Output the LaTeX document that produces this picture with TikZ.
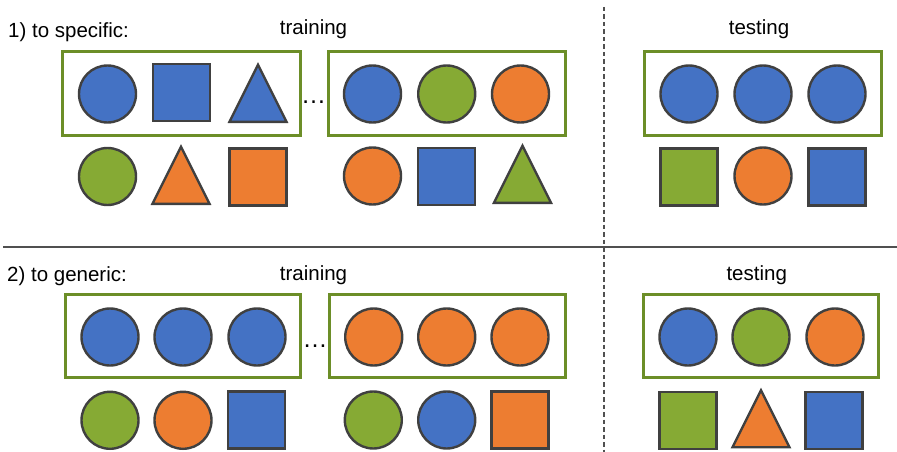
\documentclass[tikz,border=0pt]{standalone}
\usepackage{fontspec}
\setmainfont{Liberation Sans}
\usetikzlibrary{shapes.geometric}
\definecolor{shapeblue}{RGB}{68,114,196}
\definecolor{shapeorange}{RGB}{237,125,49}
\definecolor{shapegreen}{RGB}{134,170,52}
\definecolor{boxgreen}{RGB}{108,142,40}
\definecolor{outline}{RGB}{64,64,64}
\definecolor{rulegray}{RGB}{80,80,80}

\begin{document}
\begin{tikzpicture}[x=1pt,y=-1pt,
  shp/.style={draw=outline, line width=2.4pt, inner sep=0pt, outer sep=0pt},
  circ/.style={shp, circle, minimum size=57pt},
  sq/.style={shp, rectangle, minimum size=57pt},
  tri/.style={shp, isosceles triangle, shape border rotate=90,
    isosceles triangle stretches, minimum width=57pt, minimum height=57pt,
    anchor=lower side},
  B/.style={fill=shapeblue},
  O/.style={fill=shapeorange},
  G/.style={fill=shapegreen},
  grp/.style={draw=boxgreen, line width=3pt, rectangle, inner sep=0pt,
    minimum height=84pt},
  lbl/.style={font=\fontsize{20.5}{24}\selectfont, inner sep=0pt, anchor=base},
  gap/.style={font=\fontsize{25}{30}\selectfont, inner sep=0pt, anchor=base},
  divider/.style={draw=rulegray, line width=2pt},
  ]
\useasboundingbox (0,0) rectangle (897,452);

% separators
\coordinate (vtop) at (604,7);
\coordinate (vbot) at (604,452);
\coordinate (hleft) at (3,246.7);
\coordinate (hright) at (897,246.7);
\draw[divider, dash pattern=on 4.5pt off 3pt] (vtop) -- (vbot);
\draw[divider] (hleft) -- (hright);

% ---------- 1) to specific ----------
\node[lbl, anchor=base west] (t1) at (8,37.5) {1) to specific:};
\node[lbl] (train1) at (313.5,35) {training};
\node[lbl] (test1) at (759,34.5) {testing};

\node[grp, minimum width=238.5pt] (ga) at (181.25,93.5) {};
\node[grp, minimum width=237pt] (gb) at (446.5,93.5) {};
\node[grp, minimum width=237pt] (gc) at (763,93.5) {};
\node[gap] (dots1) at (313.5,103.5) {…};

\node[circ,B] (a1) at (107.5,94) {};
\node[sq,B]   (a2) at (181.5,92.5) {};
\node[tri,B]  (a3) at (258,121.8) {};
\node[circ,B] (b1) at (372.5,94) {};
\node[circ,G] (b2) at (446.7,94) {};
\node[circ,O] (b3) at (520.5,94) {};
\node[circ,B] (c1) at (689,94) {};
\node[circ,B] (c2) at (763,94) {};
\node[circ,B] (c3) at (837,94) {};

\node[circ,G] (a4) at (107.5,176.5) {};
\node[tri,O]  (a5) at (181,203.8) {};
\node[sq,O]   (a6) at (258,177) {};
\node[circ,O] (b4) at (372.5,176) {};
\node[sq,B]   (b5) at (446.2,176.7) {};
\node[tri,G]  (b6) at (522.5,202.8) {};
\node[sq,G]   (c4) at (689,177) {};
\node[circ,O] (c5) at (763,176) {};
\node[sq,B]   (c6) at (837,177) {};

% ---------- 2) to generic ----------
\node[lbl, anchor=base west] (t2) at (7,281.7) {2) to generic:};
\node[lbl] (train2) at (313.5,280) {training};
\node[lbl] (test2) at (756.7,280) {testing};

\node[grp, minimum width=235pt, minimum height=83pt] (gd) at (183.2,336) {};
\node[grp, minimum width=236pt, minimum height=83pt] (ge) at (447.2,336) {};
\node[grp, minimum width=235.3pt, minimum height=83pt] (gf) at (760.9,336) {};
\node[gap] (dots2) at (315,347.5) {…};

\node[circ,B] (d1) at (110,337) {};
\node[circ,B] (d2) at (183,337) {};
\node[circ,B] (d3) at (257,337) {};
\node[circ,O] (e1) at (373.7,337) {};
\node[circ,O] (e2) at (446.7,337) {};
\node[circ,O] (e3) at (520,337) {};
\node[circ,B] (f1) at (688,337) {};
\node[circ,G] (f2) at (761,337) {};
\node[circ,O] (f3) at (835,337) {};

\node[circ,G] (d4) at (110,420.3) {};
\node[circ,O] (d5) at (183,420.3) {};
\node[sq,B]   (d6) at (256.5,420) {};
\node[circ,G] (e4) at (373.3,420) {};
\node[circ,B] (e5) at (446.7,420) {};
\node[sq,O]   (e6) at (520,420) {};
\node[sq,G]   (f4) at (688,420.3) {};
\node[tri,O]  (f5) at (761,447.2) {};
\node[sq,B]   (f6) at (834,420.3) {};
\end{tikzpicture}
\end{document}
